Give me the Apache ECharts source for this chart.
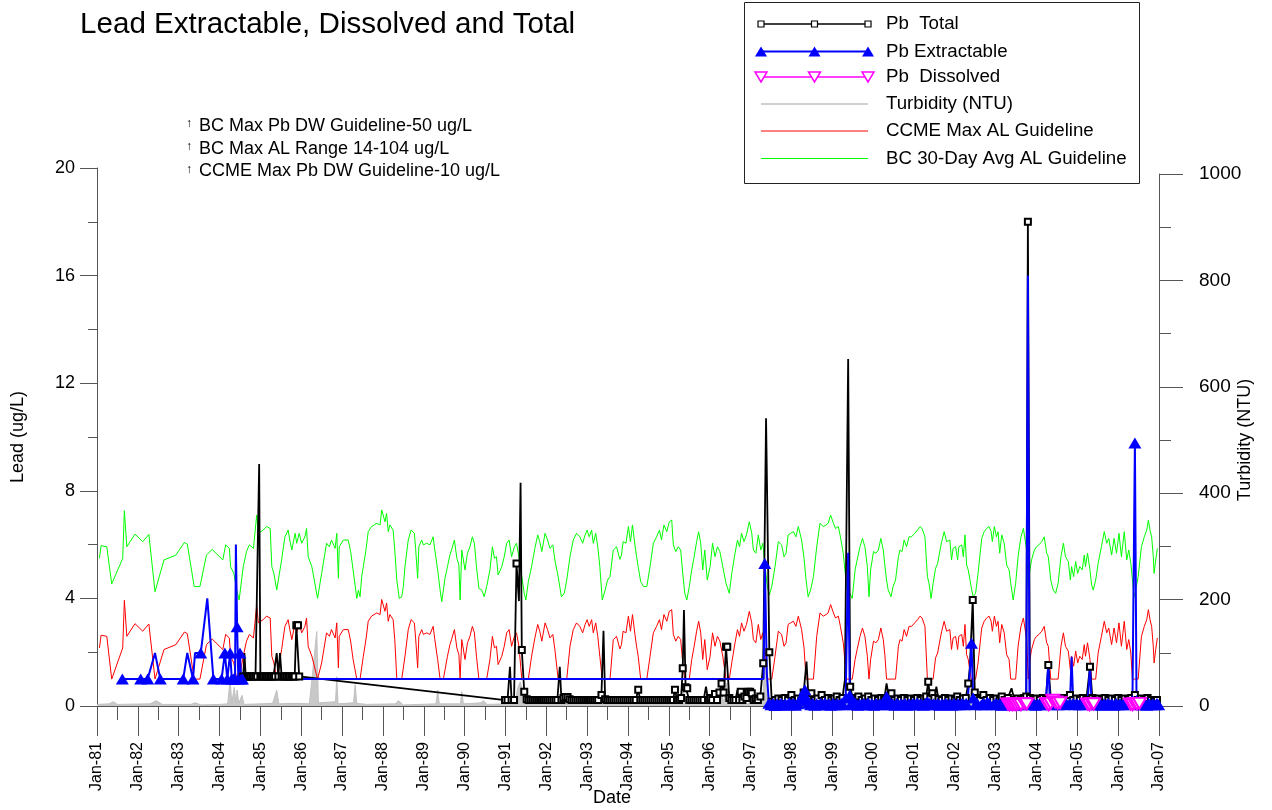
<!DOCTYPE html>
<html>
<head>
<meta charset="utf-8">
<script src="https://cdn.jsdelivr.net/npm/echarts@6/dist/echarts.min.js"></script>
<style>
html,body{margin:0;padding:0;background:#fff;}
#chart{width:1272px;height:810px;}
</style>
</head>
<body>
<div id="chart"></div>
<script>
// ---- DATA ----
const chartTitle = 'Lead Extractable, Dissolved and Total';
const guidelineNotes = ['BC Max Pb DW Guideline-50 ug/L', 'BC Max AL Range 14-104 ug/L', 'CCME Max Pb DW Guideline-10 ug/L'];
const legendNames = ['Pb  Total', 'Pb Extractable', 'Pb  Dissolved', 'Turbidity (NTU)', 'CCME Max AL Guideline', 'BC 30-Day Avg AL Guideline'];

// Aluminium guideline curves (decimal year, value on lead axis scale)
const alYears = [
1981.06,1981.10,1981.24,1981.36,1981.63,1981.67,1981.73,1981.93,1982.12,1982.27,
1982.42,1982.64,1982.93,1983.14,1983.21,1983.38,1983.52,1983.68,1983.82,1984.08,
1984.15,1984.24,1984.27,1984.35,1984.42,1984.48,1984.58,1984.66,1984.73,1984.83,
1984.91,1984.95,1985.07,1985.15,1985.24,1985.28,1985.33,1985.40,1985.52,1985.60,
1985.68,1985.72,1985.77,1985.85,1985.89,1985.95,1986.01,1986.09,1986.13,1986.17,
1986.26,1986.40,1986.50,1986.62,1986.69,1986.74,1986.83,1986.87,1986.91,1986.93,
1987.03,1987.15,1987.21,1987.27,1987.36,1987.40,1987.44,1987.48,1987.52,1987.59,
1987.64,1987.72,1987.85,1987.93,1987.97,1988.01,1988.05,1988.09,1988.13,1988.17,
1988.25,1988.29,1988.34,1988.40,1988.46,1988.50,1988.54,1988.62,1988.69,1988.77,
1988.80,1988.85,1988.88,1988.95,1988.99,1989.07,1989.15,1989.23,1989.27,1989.34,
1989.40,1989.44,1989.48,1989.52,1989.58,1989.64,1989.68,1989.75,1989.81,1989.86,
1989.89,1989.93,1990.01,1990.07,1990.13,1990.19,1990.24,1990.29,1990.35,1990.42,
1990.48,1990.54,1990.62,1990.68,1990.73,1990.78,1990.82,1990.91,1990.97,1991.03,
1991.09,1991.15,1991.22,1991.27,1991.33,1991.40,1991.46,1991.50,1991.56,1991.64,
1991.72,1991.79,1991.84,1991.89,1991.97,1992.03,1992.09,1992.16,1992.21,1992.29,
1992.37,1992.44,1992.50,1992.58,1992.66,1992.74,1992.82,1992.89,1992.95,1993.00,
1993.05,1993.11,1993.15,1993.21,1993.26,1993.31,1993.37,1993.44,1993.50,1993.56,
1993.64,1993.72,1993.80,1993.84,1993.88,1993.95,1994.01,1994.06,1994.11,1994.17,
1994.21,1994.25,1994.31,1994.38,1994.46,1994.54,1994.62,1994.70,1994.77,1994.82,
1994.88,1994.95,1995.01,1995.07,1995.11,1995.17,1995.23,1995.29,1995.34,1995.39,
1995.44,1995.50,1995.56,1995.62,1995.68,1995.73,1995.78,1995.83,1995.88,1995.94,
1996.01,1996.07,1996.13,1996.19,1996.25,1996.32,1996.40,1996.48,1996.54,1996.62,
1996.68,1996.73,1996.78,1996.84,1996.90,1996.97,1997.03,1997.07,1997.13,1997.19,
1997.25,1997.30,1997.35,1997.41,1997.46,1997.52,1997.60,1997.68,1997.76,1997.82,
1997.87,1997.92,1997.98,1998.05,1998.11,1998.17,1998.21,1998.25,1998.31,1998.36,
1998.41,1998.47,1998.54,1998.62,1998.70,1998.78,1998.85,1998.90,1998.96,1999.03,
1999.08,1999.15,1999.20,1999.27,1999.35,1999.43,1999.49,1999.56,1999.61,1999.68,
1999.74,1999.80,1999.86,1999.90,1999.94,2000.01,2000.07,2000.13,2000.19,2000.25,
2000.29,2000.33,2000.37,2000.44,2000.49,2000.55,2000.62,2000.66,2000.71,2000.76,
2000.82,2000.88,2000.94,2001.02,2001.09,2001.15,2001.20,2001.27,2001.33,2001.37,
2001.42,2001.47,2001.53,2001.58,2001.64,2001.68,2001.74,2001.80,2001.88,2001.92,
2001.96,2002.02,2002.07,2002.10,2002.17,2002.21,2002.25,2002.29,2002.33,2002.40,
2002.45,2002.51,2002.57,2002.66,2002.72,2002.78,2002.84,2002.89,2002.92,2002.97,
2003.02,2003.06,2003.10,2003.15,2003.21,2003.27,2003.33,2003.37,2003.43,2003.49,
2003.55,2003.62,2003.68,2003.72,2003.76,2003.80,2003.84,2003.88,2003.95,2004.00,
2004.06,2004.13,2004.19,2004.25,2004.29,2004.35,2004.41,2004.47,2004.53,2004.60,
2004.66,2004.71,2004.78,2004.83,2004.86,2004.91,2004.96,2005.01,2005.06,2005.12,
2005.17,2005.20,2005.25,2005.31,2005.35,2005.39,2005.45,2005.51,2005.59,2005.66,
2005.72,2005.77,2005.84,2005.90,2005.96,2006.02,2006.08,2006.15,2006.21,2006.26,
2006.31,2006.35,2006.39,2006.43,2006.49,2006.57,2006.64,2006.70,2006.74,2006.78,
2006.82,2006.86,2006.88,2006.92,2006.96
];
const bcAvgAL = [
5.49,5.96,5.92,4.54,5.49,7.26,5.92,6.39,6.11,6.38,
4.25,5.43,5.61,6.08,6.02,4.44,4.44,5.61,5.82,5.43,
5.99,5.86,5.18,4.93,4.31,3.94,5.18,5.74,5.99,5.86,
7.10,6.42,6.54,6.67,6.60,5.18,4.93,4.31,5.43,6.29,
6.54,6.17,5.80,6.42,6.05,6.42,6.05,6.29,6.60,5.55,
5.18,4.00,4.93,6.05,5.92,6.17,5.86,6.42,4.75,5.92,
6.17,6.17,5.74,5.06,4.00,4.31,4.06,4.81,5.18,5.86,
6.48,6.67,6.79,6.73,7.29,7.35,6.85,7.16,6.48,6.73,
6.54,5.80,4.68,4.00,4.06,4.44,5.18,6.17,6.54,6.42,
5.86,4.75,5.92,6.17,5.99,6.05,5.99,6.29,5.80,5.06,
4.31,3.88,4.31,4.75,5.18,5.61,5.80,6.17,5.49,5.24,
3.94,5.80,5.06,5.68,5.92,6.29,6.05,5.18,4.37,4.31,
4.06,4.44,5.06,5.92,5.49,5.55,4.87,5.18,5.55,6.05,
6.17,5.55,5.92,6.05,5.55,4.81,4.19,3.94,4.62,5.18,
5.86,6.36,6.11,5.74,6.42,6.17,5.86,5.99,5.43,4.81,
4.06,4.19,4.68,5.55,6.17,6.42,6.29,6.05,6.36,6.54,
6.29,6.54,6.05,6.42,5.92,5.18,3.94,4.31,4.68,4.81,
5.80,5.92,5.45,5.61,6.11,6.05,6.67,6.11,6.73,5.99,
5.55,5.18,4.62,4.44,4.44,5.18,6.05,6.29,6.54,6.17,
6.73,6.48,6.85,6.91,5.99,5.74,5.92,5.80,4.93,4.19,
3.94,4.44,5.06,5.55,6.11,6.48,6.05,5.06,5.80,4.68,
5.18,6.05,5.55,5.92,5.74,5.18,4.56,4.19,4.93,5.68,
6.17,5.92,6.42,6.11,6.36,6.85,6.42,5.80,5.68,6.36,
5.80,6.05,5.30,4.44,4.13,4.44,5.18,6.11,5.99,5.55,
5.68,6.36,6.42,6.48,6.29,6.67,6.73,6.17,5.49,4.68,
4.06,4.31,4.81,5.92,6.79,6.67,6.73,6.79,7.10,6.79,
6.60,6.67,6.29,5.68,4.44,4.19,4.00,5.06,5.43,5.92,
6.23,5.92,5.18,4.06,5.06,5.74,5.68,5.80,6.23,5.80,
5.20,4.68,4.31,4.06,4.44,4.68,5.55,5.80,5.74,6.17,
5.92,6.29,6.29,6.42,6.54,6.67,6.60,6.29,4.81,4.56,
4.00,4.56,5.12,5.30,5.80,6.11,6.48,6.11,6.17,5.43,
5.86,5.92,5.43,5.92,5.99,5.55,6.36,5.24,5.06,4.44,
4.06,4.19,4.93,6.23,6.48,6.60,6.67,6.48,6.11,6.67,
6.29,6.48,5.68,6.36,6.05,5.24,5.06,4.56,3.94,4.56,
5.55,6.29,6.60,6.54,5.80,4.44,5.06,5.43,5.80,5.92,
5.99,6.11,6.29,5.68,5.55,4.68,4.31,4.19,4.56,5.55,
6.05,5.55,5.37,4.68,5.18,4.81,5.37,4.93,5.18,5.06,
5.61,5.18,5.68,5.06,4.50,4.31,4.68,5.30,5.92,6.48,
6.05,6.23,5.61,6.23,5.68,6.42,5.55,6.48,5.43,5.80,
5.30,4.68,4.06,4.31,4.81,5.92,6.29,6.54,6.91,6.54,
6.29,5.55,4.93,5.43,5.86
];
const ccmeMaxAL = [
2.16,2.63,2.59,1.00,2.16,3.93,2.59,3.06,2.78,3.05,
1.00,2.10,2.28,2.75,2.69,1.00,1.00,2.28,2.49,2.10,
2.66,2.53,1.85,1.60,1.00,1.00,1.85,2.41,2.66,2.53,
3.77,3.09,3.21,3.34,3.27,1.85,1.60,1.00,2.10,2.96,
3.21,2.84,2.47,3.09,2.72,3.09,2.72,2.96,3.27,2.22,
1.85,1.00,1.60,2.72,2.59,2.84,2.53,3.09,1.42,2.59,
2.84,2.84,2.41,1.73,1.00,1.00,1.00,1.00,1.85,2.53,
3.15,3.34,3.46,3.40,3.96,4.02,3.52,3.83,3.15,3.40,
3.21,2.47,1.00,1.00,1.00,1.00,1.85,2.84,3.21,3.09,
2.53,1.42,2.59,2.84,2.66,2.72,2.66,2.96,2.47,1.73,
1.00,1.00,1.00,1.00,1.85,2.28,2.47,2.84,2.16,1.91,
1.00,2.47,1.73,2.35,2.59,2.96,2.72,1.85,1.00,1.00,
1.00,1.00,1.73,2.59,2.16,2.22,1.54,1.85,2.22,2.72,
2.84,2.22,2.59,2.72,2.22,1.00,1.00,1.00,1.00,1.85,
2.53,3.03,2.78,2.41,3.09,2.84,2.53,2.66,2.10,1.00,
1.00,1.00,1.00,2.22,2.84,3.09,2.96,2.72,3.03,3.21,
2.96,3.21,2.72,3.09,2.59,1.85,1.00,1.00,1.00,1.00,
2.47,2.59,2.12,2.28,2.78,2.72,3.34,2.78,3.40,2.66,
2.22,1.85,1.00,1.00,1.00,1.85,2.72,2.96,3.21,2.84,
3.40,3.15,3.52,3.58,2.66,2.41,2.59,2.47,1.60,1.00,
1.00,1.00,1.73,2.22,2.78,3.15,2.72,1.73,2.47,1.35,
1.85,2.72,2.22,2.59,2.41,1.85,1.00,1.00,1.60,2.35,
2.84,2.59,3.09,2.78,3.03,3.52,3.09,2.47,2.35,3.03,
2.47,2.72,1.97,1.00,1.00,1.00,1.85,2.78,2.66,2.22,
2.35,3.03,3.09,3.15,2.96,3.34,3.40,2.84,2.16,1.00,
1.00,1.00,1.00,2.59,3.46,3.34,3.40,3.46,3.77,3.46,
3.27,3.34,2.96,2.35,1.00,1.00,1.00,1.73,2.10,2.59,
2.90,2.59,1.85,1.00,1.73,2.41,2.35,2.47,2.90,2.47,
1.87,1.00,1.00,1.00,1.00,1.00,2.22,2.47,2.41,2.84,
2.59,2.96,2.96,3.09,3.21,3.34,3.27,2.96,1.00,1.00,
1.00,1.00,1.79,1.97,2.47,2.78,3.15,2.78,2.84,2.10,
2.53,2.59,2.10,2.59,2.66,2.22,3.03,1.91,1.73,1.00,
1.00,1.00,1.60,2.90,3.15,3.27,3.34,3.15,2.78,3.34,
2.96,3.15,2.35,3.03,2.72,1.91,1.73,1.00,1.00,1.00,
2.22,2.96,3.27,3.21,2.47,1.00,1.73,2.10,2.47,2.59,
2.66,2.78,2.96,2.35,2.22,1.00,1.00,1.00,1.00,2.22,
2.72,2.22,2.04,1.35,1.85,1.48,2.04,1.60,1.85,1.73,
2.28,1.85,2.35,1.73,1.00,1.00,1.00,1.97,2.59,3.15,
2.72,2.90,2.28,2.90,2.35,3.09,2.22,3.15,2.10,2.47,
1.97,1.00,1.00,1.00,1.00,2.59,2.96,3.21,3.58,3.21,
2.96,2.22,1.60,2.10,2.53
];

// Turbidity (NTU), [decimal year, value]
const turbidity = [
[1981.00,3],[1981.30,4],[1981.40,8],[1981.50,3],[1982.30,4],[1982.45,10],[1982.60,3],[1983.30,3],[1983.40,6],[1983.55,2],
[1984.00,3],[1984.20,4],[1984.26,50],[1984.30,5],[1984.36,35],[1984.40,6],[1984.43,30],[1984.47,5],[1984.55,20],[1984.60,3],
[1985.00,4],[1985.30,5],[1985.40,30],[1985.45,4],[1985.90,5],[1986.20,4],[1986.38,140],[1986.42,6],[1986.84,8],[1986.87,55],
[1986.90,4],[1987.28,6],[1987.32,40],[1987.36,5],[1987.60,3],[1988.30,4],[1988.38,10],[1988.50,2],[1989.30,4],[1989.34,30],
[1989.38,4],[1989.90,4],[1989.93,27],[1989.97,4],[1990.40,6],[1990.46,10],[1990.55,3],[1991.00,4],[1991.25,15],[1991.31,36],
[1991.36,45],[1991.42,30],[1991.50,8],[1991.60,3],[1992.28,4],[1992.31,18],[1992.36,4],[1993.32,4],[1993.35,15],[1993.40,4],
[1994.26,4],[1994.29,10],[1994.33,3],[1995.31,5],[1995.35,30],[1995.40,12],[1995.45,3],[1996.26,5],[1996.29,30],[1996.34,5],
[1996.42,43],[1996.46,5],[1996.95,4],[1996.98,10],[1997.02,3],[1997.30,8],[1997.33,55],[1997.36,85],[1997.40,40],[1997.45,5],
[1998.00,4],[1998.35,15],[1998.40,3],[1999.32,4],[1999.36,20],[1999.40,4],[2000.32,3],[2000.35,10],[2000.40,3],[2001.37,3],
[2001.40,8],[2001.45,3],[2002.36,4],[2002.40,25],[2002.43,18],[2002.47,4],[2003.40,6],[2003.76,3],[2003.80,15],[2003.84,3],
[2004.30,8],[2004.35,3],[2005.30,6],[2005.35,3],[2006.40,8],[2006.45,3],[2007.00,3]
];

// Pb Total (ug/L), [decimal year, value]
const pbTotal = [
[1984.58,1.1],[1984.61,1.97],[1984.64,1.1],[1984.68,1.1],[1984.72,1.1],[1984.76,1.1],[1984.80,1.1],[1984.84,1.1],[1984.88,1.1],[1984.92,1.1],
[1984.97,9.0],[1985.00,1.1],[1985.04,1.1],[1985.08,1.1],[1985.12,1.1],[1985.16,1.1],[1985.20,1.1],[1985.24,1.1],[1985.28,1.1],[1985.32,1.1],
[1985.36,1.1],[1985.40,1.97],[1985.44,1.1],[1985.48,1.97],[1985.52,1.1],[1985.56,1.1],[1985.60,1.1],[1985.64,1.1],[1985.68,1.1],[1985.72,1.1],
[1985.76,1.1],[1985.80,1.1],[1985.84,1.1],[1985.88,3.0],[1985.92,3.0],[1985.95,1.1],
[1990.99,0.22],[1991.05,0.22],[1991.11,1.46],[1991.15,0.22],[1991.21,0.22],[1991.27,5.3],[1991.33,3.9],[1991.37,8.3],[1991.40,2.08],[1991.46,0.53],
[1991.52,0.25],[1991.57,0.22],[1991.62,0.22],[1991.67,0.22],[1991.72,0.22],[1991.77,0.22],[1991.82,0.22],[1991.87,0.22],[1991.92,0.22],[1991.97,0.22],
[1992.02,0.22],[1992.07,0.22],[1992.12,0.22],[1992.17,0.22],[1992.22,0.22],[1992.27,0.22],[1992.33,1.46],[1992.37,0.22],[1992.42,0.3],[1992.47,0.33],
[1992.52,0.33],[1992.57,0.25],[1992.62,0.22],[1992.67,0.22],[1992.72,0.22],[1992.77,0.22],[1992.82,0.22],[1992.87,0.22],[1992.92,0.22],[1992.97,0.22],
[1993.02,0.22],[1993.07,0.22],[1993.12,0.22],[1993.17,0.22],[1993.22,0.22],[1993.27,0.22],[1993.35,0.41],[1993.40,2.8],[1993.44,0.25],[1993.49,0.22],
[1993.54,0.22],[1993.59,0.22],[1993.64,0.22],[1993.69,0.22],[1993.74,0.22],[1993.79,0.22],[1993.84,0.22],[1993.89,0.22],[1993.94,0.22],[1993.99,0.22],
[1994.04,0.22],[1994.09,0.22],[1994.14,0.22],[1994.19,0.22],[1994.25,0.6],[1994.30,0.22],[1994.35,0.22],[1994.40,0.22],[1994.45,0.22],[1994.50,0.22],
[1994.55,0.22],[1994.60,0.22],[1994.65,0.22],[1994.70,0.22],[1994.75,0.22],[1994.80,0.22],[1994.85,0.22],[1994.90,0.22],[1994.95,0.22],[1995.00,0.22],
[1995.05,0.22],[1995.10,0.22],[1995.15,0.6],[1995.20,0.22],[1995.25,0.22],[1995.30,0.3],[1995.34,1.4],[1995.37,3.57],[1995.41,0.7],[1995.45,0.66],
[1995.50,0.22],[1995.55,0.22],[1995.60,0.22],[1995.65,0.22],[1995.70,0.22],[1995.75,0.22],[1995.80,0.22],[1995.85,0.22],[1995.91,0.72],[1995.96,0.22],
[1996.01,0.3],[1996.06,0.22],[1996.13,0.45],[1996.18,0.22],[1996.24,0.5],[1996.29,0.84],[1996.34,0.5],[1996.40,2.2],[1996.43,2.2],[1996.48,0.3],
[1996.53,0.22],[1996.58,0.22],[1996.63,0.22],[1996.68,0.6],[1996.72,0.22],[1996.76,0.53],[1996.80,0.22],[1996.85,0.35],[1996.90,0.3],[1996.94,0.53],
[1996.99,0.53],[1997.03,0.47],[1997.08,0.22],[1997.13,0.28],[1997.18,0.22],[1997.24,0.35],[1997.31,1.59],[1997.38,10.7],[1997.46,2.0],[1997.52,0.16],
[1997.60,0.22],[1997.68,0.28],[1997.76,0.22],[1997.84,0.3],[1997.92,0.22],[1998.00,0.41],[1998.08,0.22],[1998.16,0.28],[1998.24,0.2],[1998.30,0.5],
[1998.37,1.65],[1998.42,0.3],[1998.49,0.47],[1998.56,0.22],[1998.64,0.28],[1998.74,0.41],[1998.82,0.22],[1998.90,0.3],[1998.98,0.22],[1999.05,0.28],
[1999.11,0.35],[1999.18,0.22],[1999.25,0.3],[1999.31,0.97],[1999.39,12.9],[1999.44,0.72],[1999.50,0.3],[1999.57,0.22],[1999.64,0.35],[1999.72,0.22],
[1999.80,0.28],[1999.88,0.35],[1999.96,0.22],[2000.04,0.28],[2000.12,0.22],[2000.20,0.3],[2000.27,0.22],[2000.33,0.84],[2000.39,0.3],[2000.45,0.47],
[2000.52,0.22],[2000.60,0.28],[2000.68,0.22],[2000.76,0.3],[2000.84,0.22],[2000.92,0.28],[2001.00,0.22],[2001.08,0.3],[2001.16,0.22],[2001.24,0.28],
[2001.30,0.35],[2001.35,0.9],[2001.40,0.3],[2001.45,0.47],[2001.50,0.3],[2001.55,0.72],[2001.60,0.25],[2001.68,0.22],[2001.76,0.3],[2001.84,0.22],
[2001.92,0.28],[2002.00,0.22],[2002.06,0.35],[2002.12,0.22],[2002.20,0.28],[2002.27,0.3],[2002.33,0.84],[2002.37,1.46],[2002.44,3.94],[2002.49,0.5],
[2002.55,0.3],[2002.62,0.22],[2002.70,0.41],[2002.78,0.22],[2002.86,0.3],[2002.94,0.22],[2003.02,0.28],[2003.10,0.22],[2003.15,0.35],[2003.22,0.22],
[2003.30,0.3],[2003.39,0.66],[2003.46,0.22],[2003.54,0.28],[2003.62,0.22],[2003.70,0.3],[2003.75,0.35],[2003.79,18.0],[2003.84,0.3],[2003.92,0.22],
[2004.00,0.28],[2004.08,0.22],[2004.16,0.3],[2004.23,0.22],[2004.29,1.52],[2004.35,0.3],[2004.42,0.22],[2004.50,0.28],[2004.58,0.22],[2004.66,0.3],
[2004.74,0.22],[2004.82,0.41],[2004.90,0.22],[2004.98,0.28],[2005.06,0.22],[2005.14,0.3],[2005.22,0.22],[2005.31,1.46],[2005.37,0.3],[2005.44,0.22],
[2005.52,0.28],[2005.60,0.22],[2005.68,0.3],[2005.76,0.22],[2005.84,0.28],[2005.92,0.22],[2006.00,0.3],[2006.08,0.22],[2006.16,0.28],[2006.24,0.22],
[2006.32,0.3],[2006.41,0.41],[2006.48,0.22],[2006.56,0.28],[2006.64,0.22],[2006.72,0.3],[2006.80,0.22],[2006.88,0.16],[2006.95,0.22]
];
// Pb Total samples drawn without a marker in the original (spike tops)
const pbTotalNoMarker = [1984.61,1984.97,1985.40,1985.48,1991.11,1991.33,1991.37,1992.33,1993.40,1995.37,1995.91,1996.68,
  1997.38,1998.37,1999.31,1999.39,2000.33,2001.55,2002.37,2003.39];

// Pb Extractable (ug/L), [decimal year, value]
const pbExtractable = [
[1981.62,1.0],[1982.07,1.0],[1982.24,1.0],[1982.42,1.97],[1982.55,1.0],[1983.11,1.0],[1983.21,1.97],[1983.35,1.0],[1983.40,1.97],[1983.54,1.97],
[1983.70,4.0],[1983.85,1.0],[1984.05,1.0],[1984.13,1.97],[1984.19,1.0],[1984.26,1.97],[1984.30,1.0],[1984.34,1.0],[1984.38,1.0],[1984.40,6.0],
[1984.43,2.95],[1984.46,1.0],[1984.50,1.97],[1984.53,1.0],[1984.56,1.0],
[1997.32,1.0],[1997.35,5.3],[1997.40,1.2],[1997.45,0.1],[1997.50,0.05],[1997.55,0.1],[1997.60,0.02],[1997.65,0.08],[1997.70,0.05],[1997.75,0.1],
[1997.80,0.03],[1997.85,0.08],[1997.90,0.05],[1997.95,0.12],[1998.00,0.05],[1998.05,0.1],[1998.10,0.03],[1998.15,0.08],[1998.20,0.2],[1998.25,0.3],
[1998.30,0.45],[1998.33,0.6],[1998.37,0.3],[1998.42,0.1],[1998.47,0.05],[1998.52,0.1],[1998.57,0.03],[1998.62,0.08],[1998.67,0.05],[1998.72,0.1],
[1998.77,0.05],[1998.82,0.12],[1998.87,0.05],[1998.92,0.08],[1998.97,0.03],[1999.02,0.1],[1999.07,0.05],[1999.12,0.08],[1999.17,0.05],[1999.22,0.1],
[1999.27,0.05],[1999.33,0.3],[1999.39,5.7],[1999.43,0.4],[1999.47,0.1],[1999.52,0.05],[1999.57,0.1],[1999.62,0.03],[1999.67,0.08],[1999.72,0.05],
[1999.77,0.1],[1999.82,0.05],[1999.87,0.12],[1999.92,0.05],[1999.97,0.08],[2000.02,0.03],[2000.07,0.1],[2000.12,0.05],[2000.17,0.08],[2000.22,0.05],
[2000.27,0.1],[2000.33,0.35],[2000.38,0.1],[2000.43,0.05],[2000.48,0.08],[2000.53,0.03],[2000.58,0.1],[2000.63,0.05],[2000.68,0.08],[2000.73,0.05],
[2000.78,0.1],[2000.83,0.03],[2000.88,0.08],[2000.93,0.05],[2000.98,0.1],[2001.03,0.05],[2001.08,0.12],[2001.13,0.05],[2001.18,0.08],[2001.23,0.03],
[2001.28,0.1],[2001.33,0.15],[2001.38,0.1],[2001.43,0.05],[2001.48,0.08],[2001.53,0.05],[2001.58,0.1],[2001.63,0.03],[2001.68,0.08],[2001.73,0.05],
[2001.78,0.1],[2001.83,0.05],[2001.88,0.08],[2001.93,0.03],[2001.98,0.1],[2002.03,0.05],[2002.08,0.08],[2002.13,0.05],[2002.18,0.1],[2002.23,0.05],
[2002.28,0.1],[2002.33,0.5],[2002.37,1.3],[2002.41,2.33],[2002.45,0.3],[2002.50,0.05],[2002.55,0.1],[2002.65,0.05],[2002.70,0.1],[2002.75,0.05],
[2002.80,0.15],[2002.85,0.08],[2002.95,0.05],[2003.00,0.1],[2003.05,0.05],[2003.10,0.08],[2003.15,0.03],[2003.20,0.1],[2003.25,0.05],[2003.30,0.08],
[2003.35,0.05],[2003.40,0.1],[2003.45,0.03],[2003.50,0.08],[2003.55,0.05],[2003.60,0.1],[2003.65,0.05],[2003.70,0.08],[2003.75,0.1],[2003.79,16.0],
[2003.83,0.1],[2003.88,0.05],[2003.93,0.1],[2003.98,0.03],[2004.03,0.08],[2004.08,0.05],[2004.13,0.1],[2004.18,0.05],[2004.23,0.1],[2004.29,1.59],
[2004.33,0.1],[2004.38,0.05],[2004.43,0.08],[2004.48,0.1],[2004.53,0.05],[2004.58,0.1],[2004.63,0.2],[2004.68,0.05],[2004.73,0.1],[2004.77,0.47],
[2004.82,0.1],[2004.86,1.83],[2004.90,0.1],[2004.95,0.05],[2005.00,0.08],[2005.05,0.05],[2005.10,0.1],[2005.15,0.05],[2005.20,0.08],[2005.25,0.1],
[2005.31,1.46],[2005.35,0.1],[2005.40,0.05],[2005.45,0.08],[2005.50,0.05],[2005.55,0.1],[2005.60,0.03],[2005.65,0.08],[2005.70,0.05],[2005.75,0.1],
[2005.80,0.05],[2005.85,0.08],[2005.90,0.03],[2005.95,0.1],[2006.00,0.05],[2006.05,0.08],[2006.10,0.05],[2006.15,0.1],[2006.20,0.05],[2006.25,0.08],
[2006.30,0.1],[2006.35,0.2],[2006.41,9.78],[2006.45,0.2],[2006.50,0.05],[2006.55,0.1],[2006.60,0.05],[2006.65,0.08],[2006.70,0.03],[2006.75,0.1],
[2006.80,0.05],[2006.85,0.08],[2006.90,0.05],[2006.95,0.1],[2006.99,0.05]
];
// Pb Extractable samples drawn without a marker in the original
const pbExtractableNoMarker = [1982.42,1983.21,1983.40,1983.70,1984.40,1997.32,1997.40,1999.39,2002.33,2002.37,
  2003.79,2004.29,2004.77,2004.86,2005.31];

// Pb Dissolved (ug/L), [decimal year, value]
const pbDissolved = [
[2003.30,0.08],[2003.34,0.05],[2003.38,0.08],[2003.42,0.05],[2003.46,0.08],[2003.50,0.05],[2003.55,0.08],[2003.62,0.05],[2003.70,0.1],[2003.76,0.08],
[2004.25,0.1],[2004.30,0.05],[2004.35,0.1],[2004.40,0.22],[2004.46,0.15],[2004.52,0.1],[2004.58,0.12],
[2005.25,0.08],[2005.30,0.05],[2005.35,0.1],[2005.40,0.08],
[2006.30,0.08],[2006.35,0.05],[2006.40,0.1],[2006.46,0.08],[2006.52,0.1]
];

// ---- CHART ----
const FONT = '"Liberation Sans", Arial, sans-serif';
const AXIS_COLOR = '#555';
const COLORS = {total: '#000000', extract: '#0000ff', dissolved: '#ff00ff', turb: '#c0c0c0', ccme: '#ff0000', bc: '#00ff00'};
const chart = echarts.init(document.getElementById('chart'), null, {renderer: 'canvas'});

const alBC = alYears.map((t, i) => [t, bcAvgAL[i]]);
const alCCME = alYears.map((t, i) => [t, ccmeMaxAL[i]]);
const markerFor = (skipList, shape) => (val) => skipList.indexOf(val[0]) >= 0 ? 'none' : shape;

// ---- key (legend box) drawn as graphic elements ----
const KEY = {x0: 761, x1: 868, textX: 886, rows: [24, 51.5, 77, 104, 131, 158.5]};
const keyMarks = [KEY.x0, (KEY.x0 + KEY.x1) / 2, KEY.x1];
function keyLine(y, color, width) {
  return {type: 'line', z: 100, shape: {x1: KEY.x0, y1: y, x2: KEY.x1, y2: y}, style: {stroke: color, lineWidth: width}};
}
const keyRowStyles = [
  {color: COLORS.total, width: 1.5, mark: 'square'},
  {color: COLORS.extract, width: 2, mark: 'triangle'},
  {color: COLORS.dissolved, width: 1.5, mark: 'invTriangle'},
  {color: COLORS.turb, width: 1.5, mark: null},
  {color: COLORS.ccme, width: 1, mark: null},
  {color: COLORS.bc, width: 1, mark: null}
];
const keyElements = [
  {type: 'rect', z: 99, shape: {x: 744.5, y: 2.5, width: 395, height: 181}, style: {fill: '#fff', stroke: '#222', lineWidth: 1}}
];
legendNames.forEach((name, i) => {
  const y = KEY.rows[i];
  const st = keyRowStyles[i];
  keyElements.push(keyLine(y, st.color, st.width));
  keyMarks.forEach(cx => {
    if (st.mark === 'square') {
      keyElements.push({type: 'rect', z: 101, shape: {x: cx - 3, y: y - 3, width: 6, height: 6},
        style: {fill: '#fff', stroke: st.color, lineWidth: 1.2}});
    } else if (st.mark === 'triangle') {
      keyElements.push({type: 'polygon', z: 101, shape: {points: [[cx - 6, y + 5], [cx, y - 5], [cx + 6, y + 5]]},
        style: {fill: st.color}});
    } else if (st.mark === 'invTriangle') {
      keyElements.push({type: 'polygon', z: 101, shape: {points: [[cx - 6, y - 5], [cx + 6, y - 5], [cx, y + 5]]},
        style: {fill: '#fff', stroke: st.color, lineWidth: 1.5}});
    }
  });
  keyElements.push({type: 'text', z: 101, x: KEY.textX, y: y,
    style: {text: name, font: '18.7px ' + FONT, fill: '#000', verticalAlign: 'middle', textVerticalAlign: 'middle'}});
});

const noteElements = guidelineNotes.map((txt, i) => ({
  type: 'group', left: 186, top: 117 + i * 22.6,
  children: [
    {type: 'text', x: 0, y: 1, style: {text: '\u2191', font: '12px ' + FONT, fill: '#000'}},
    {type: 'text', x: 13, y: 0, style: {text: txt, font: '18px ' + FONT, fill: '#000'}}
  ]
}));

const option = {
  animation: false,
  backgroundColor: '#fff',
  textStyle: {fontFamily: FONT},
  title: {
    text: chartTitle, left: 80, top: 10, padding: 0,
    textStyle: {fontFamily: FONT, fontSize: 29.6, fontWeight: 'normal', color: '#000'}
  },
  graphic: keyElements.concat(noteElements),
  grid: [
    {left: 97, right: 113, top: 168, bottom: 104, containLabel: false, outerBoundsMode: 'none'},
    {left: 97, right: 113, top: 174, bottom: 104, containLabel: false, outerBoundsMode: 'none'}
  ],
  xAxis: [
    {
      type: 'value', gridIndex: 0, min: 1981, max: 2007, interval: 1,
      name: 'Date', nameLocation: 'middle', nameGap: 83, nameMoveOverlap: false,
      nameTextStyle: {fontFamily: FONT, fontSize: 18, color: '#000', padding: [0, 32, 0, 0]},
      axisLine: {show: true, onZero: false, lineStyle: {color: AXIS_COLOR, width: 1}},
      axisTick: {show: true, length: 30, lineStyle: {color: AXIS_COLOR}},
      minorTick: {show: true, splitNumber: 2, length: 14, lineStyle: {color: AXIS_COLOR}},
      splitLine: {show: false},
      axisLabel: {
        rotate: 90, margin: 36, fontSize: 16, color: '#000', fontFamily: FONT,
        formatter: v => 'Jan-' + String(Math.round(v)).slice(2)
      }
    },
    {type: 'value', gridIndex: 1, min: 1981, max: 2007, show: false}
  ],
  yAxis: [
    {
      type: 'value', gridIndex: 0, position: 'left', min: 0, max: 20, interval: 4,
      name: 'Lead (ug/L)', nameLocation: 'middle', nameGap: 70, nameRotate: 90, nameMoveOverlap: false,
      nameTextStyle: {fontFamily: FONT, fontSize: 18, color: '#000'},
      axisLine: {show: true, onZero: false, lineStyle: {color: AXIS_COLOR, width: 1}},
      axisTick: {show: true, length: 17, lineStyle: {color: AXIS_COLOR}},
      minorTick: {show: true, splitNumber: 2, length: 9, lineStyle: {color: AXIS_COLOR}},
      splitLine: {show: false},
      axisLabel: {margin: 22, fontSize: 18, color: '#000', fontFamily: FONT}
    },
    {
      type: 'value', gridIndex: 1, position: 'right', min: 0, max: 1000, interval: 200,
      name: 'Turbidity (NTU)', nameLocation: 'middle', nameGap: 77, nameRotate: 90, nameMoveOverlap: false,
      nameTextStyle: {fontFamily: FONT, fontSize: 18, color: '#000'},
      axisLine: {show: true, onZero: false, lineStyle: {color: AXIS_COLOR, width: 1}},
      axisTick: {show: true, length: 24, lineStyle: {color: AXIS_COLOR}},
      minorTick: {show: true, splitNumber: 2, length: 12, lineStyle: {color: AXIS_COLOR}},
      splitLine: {show: false},
      axisLabel: {margin: 40, fontSize: 19, color: '#000', fontFamily: FONT, formatter: v => String(v)}
    }
  ],
  series: [
    {
      name: 'Turbidity (NTU)', type: 'line', xAxisIndex: 1, yAxisIndex: 1,
      data: turbidity, symbol: 'none', color: '#c4c4c4',
      lineStyle: {color: COLORS.turb, width: 1},
      areaStyle: {color: '#c8c8c8', opacity: 1}
    },
    {
      name: 'BC 30-Day Avg AL Guideline', type: 'line', xAxisIndex: 0, yAxisIndex: 0,
      data: alBC, symbol: 'none', color: COLORS.bc,
      lineStyle: {color: COLORS.bc, width: 1}
    },
    {
      name: 'CCME Max AL Guideline', type: 'line', xAxisIndex: 0, yAxisIndex: 0,
      data: alCCME, symbol: 'none', color: COLORS.ccme,
      lineStyle: {color: COLORS.ccme, width: 1}
    },
    {
      name: 'Pb  Total', type: 'line', xAxisIndex: 0, yAxisIndex: 0,
      data: pbTotal, symbol: markerFor(pbTotalNoMarker, 'emptyRect'), symbolSize: 6, color: COLORS.total,
      itemStyle: {color: COLORS.total, borderWidth: 1.2},
      lineStyle: {color: COLORS.total, width: 1.8}
    },
    {
      name: 'Pb Extractable', type: 'line', xAxisIndex: 0, yAxisIndex: 0,
      data: pbExtractable, symbol: markerFor(pbExtractableNoMarker, 'triangle'), symbolSize: [13, 11], color: COLORS.extract,
      itemStyle: {color: COLORS.extract},
      lineStyle: {color: COLORS.extract, width: 2}
    },
    {
      name: 'Pb  Dissolved', type: 'line', xAxisIndex: 0, yAxisIndex: 0,
      data: pbDissolved, symbol: 'emptyTriangle', symbolRotate: 180, symbolSize: [13, 11], color: COLORS.dissolved,
      itemStyle: {color: COLORS.dissolved, borderWidth: 1.5},
      lineStyle: {color: COLORS.dissolved, width: 1.5}
    }
  ]
};
chart.setOption(option);
</script>
</body>
</html>
